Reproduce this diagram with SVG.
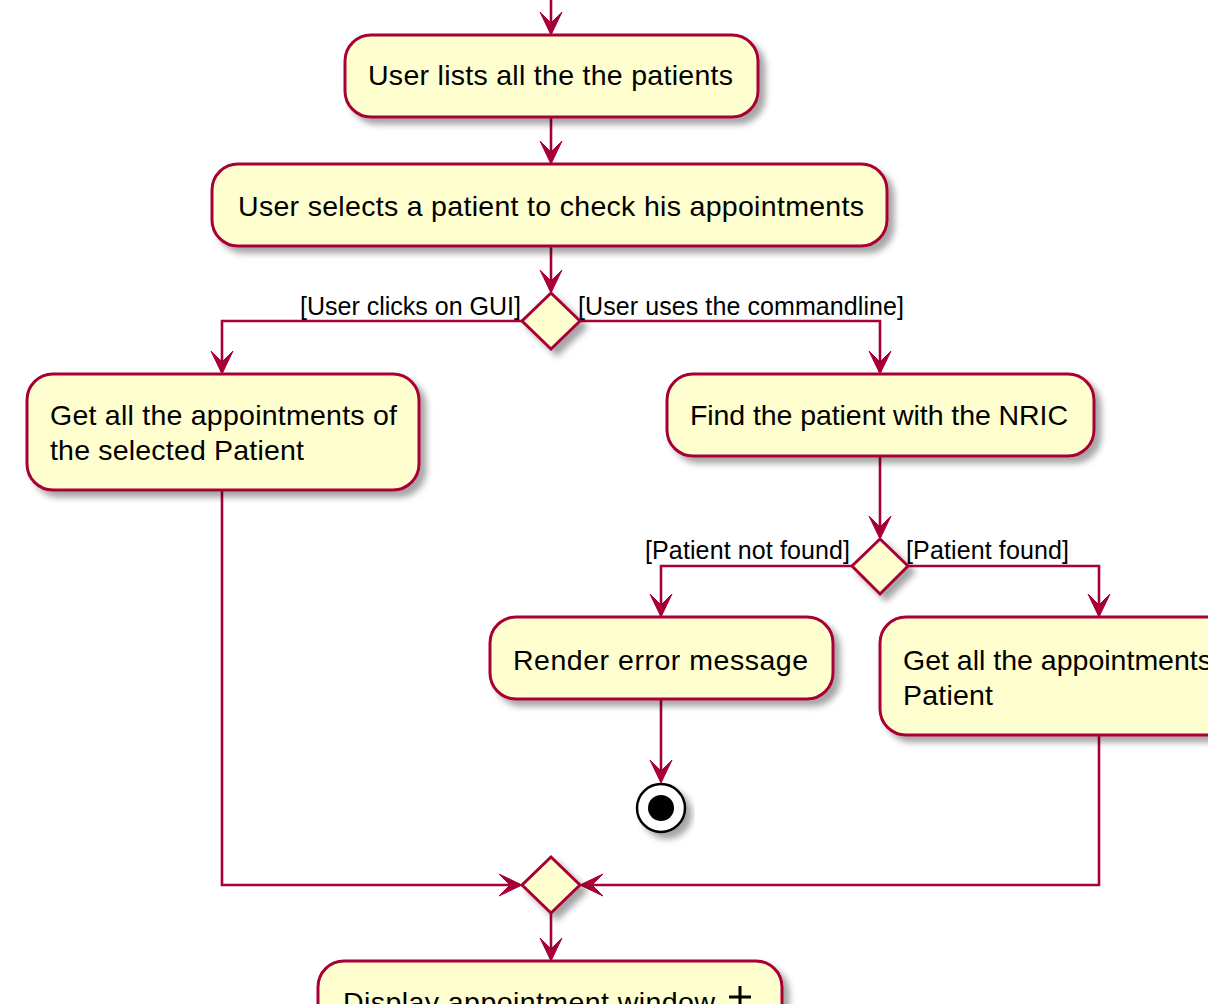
<svg xmlns="http://www.w3.org/2000/svg" width="1208" height="1004" viewBox="0 0 1208 1004">
<defs>
<filter id="sh" x="-20%" y="-20%" width="140%" height="160%">
<feGaussianBlur in="SourceAlpha" stdDeviation="3"/>
<feOffset dx="6" dy="6" result="b"/>
<feFlood flood-color="#000" flood-opacity="0.35"/>
<feComposite in2="b" operator="in"/>
<feMerge><feMergeNode/><feMergeNode in="SourceGraphic"/></feMerge>
</filter>
<polygon id="ah" points="-11,-23 0,0 11,-23 0,-12"/>
</defs>
<style>
.n{fill:#FEFECE;stroke:#A80036;stroke-width:3;filter:url(#sh)}
.t{font-family:"Liberation Sans",Arial,sans-serif;font-size:28.5px;fill:#000}
.g{font-family:"Liberation Sans",Arial,sans-serif;font-size:25px;fill:#000}
.c{fill:none;stroke:#A80036;stroke-width:2.6}
.a{fill:#A80036;stroke:#A80036;stroke-width:1}
</style>
<rect width="1208" height="1004" fill="#fff"/>
<g id="connectors">
<path class="c" d="M551,0 V33"/>
<use href="#ah" class="a" x="551" y="35"/>
<path class="c" d="M551,117 V162"/>
<use href="#ah" class="a" x="551" y="164"/>
<path class="c" d="M551,246 V291"/>
<use href="#ah" class="a" x="551" y="293"/>
<path class="c" d="M522,321 H222 V372"/>
<use href="#ah" class="a" x="222" y="374"/>
<path class="c" d="M580,321 H880 V372"/>
<use href="#ah" class="a" x="880" y="374"/>
<path class="c" d="M880,456 V537"/>
<use href="#ah" class="a" x="880" y="539"/>
<path class="c" d="M852,566 H661 V615"/>
<use href="#ah" class="a" x="661" y="617"/>
<path class="c" d="M908,566 H1099 V615"/>
<use href="#ah" class="a" x="1099" y="617"/>
<path class="c" d="M661,699 V781"/>
<use href="#ah" class="a" x="661" y="783"/>
<path class="c" d="M222,490 V885 H520"/>
<use href="#ah" class="a" transform="translate(522,885) rotate(-90)"/>
<path class="c" d="M1099,735 V885 H582"/>
<use href="#ah" class="a" transform="translate(580,885) rotate(90)"/>
<path class="c" d="M551,913 V959"/>
<use href="#ah" class="a" x="551" y="961"/>
</g>
<g id="n1"><rect class="n" x="345" y="35" width="413" height="82" rx="26"/><text class="t" x="368" y="85" textLength="365">User lists all the the patients</text></g>
<g id="n2"><rect class="n" x="212" y="164" width="675" height="82" rx="26"/><text class="t" x="238" y="216" textLength="626">User selects a patient to check his appointments</text></g>
<g id="d1"><polygon class="n" points="551,293 580,321 551,349 522,321"/>
<text class="g" x="300" y="315" textLength="221">[User clicks on GUI]</text>
<text class="g" x="578" y="315" textLength="326">[User uses the commandline]</text></g>
<g id="n3"><rect class="n" x="27" y="374" width="392" height="116" rx="26"/><text class="t" x="50" y="425" textLength="347">Get all the appointments of</text><text class="t" x="50" y="460" textLength="254">the selected Patient</text></g>
<g id="n4"><rect class="n" x="667" y="374" width="427" height="82" rx="26"/><text class="t" x="690" y="425" textLength="378">Find the patient with the NRIC</text></g>
<g id="d2"><polygon class="n" points="880,539 908,566 880,594 852,566"/>
<text class="g" x="645" y="559" textLength="205">[Patient not found]</text>
<text class="g" x="906" y="559" textLength="163">[Patient found]</text></g>
<g id="n5"><rect class="n" x="490" y="617" width="343" height="82" rx="26"/><text class="t" x="513" y="670" textLength="295">Render error message</text></g>
<g id="n6"><rect class="n" x="880" y="617" width="400" height="118" rx="26"/><text class="t" x="903" y="670" textLength="309">Get all the appointments</text><text class="t" x="903" y="705" textLength="90">Patient</text></g>
<g id="end"><circle cx="661" cy="808" r="24" fill="#fff" stroke="#000" stroke-width="2.5" filter="url(#sh)"/><circle cx="661" cy="808" r="13" fill="#000"/></g>
<g id="d3"><polygon class="n" points="551,857 580,885 551,913 522,885"/></g>
<g id="n7"><rect class="n" x="318" y="961" width="464" height="90" rx="26"/><text class="t" x="343" y="1012" textLength="372">Display appointment window</text>
<path d="M740,986 V1004 M729,997 H751" stroke="#000" stroke-width="3"/></g>
</svg>
